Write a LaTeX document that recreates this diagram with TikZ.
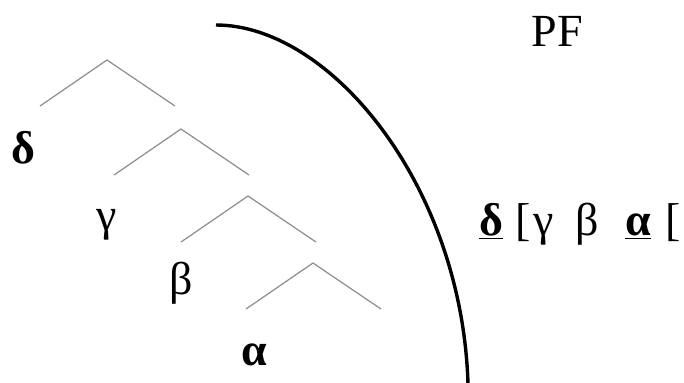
\documentclass[tikz,border=0pt]{standalone}
\usepackage{fontspec}
\setmainfont{Liberation Serif}
\usepackage{tikz}
\usetikzlibrary{positioning}
\tikzset{
  % tree branches
  branch/.style={gray!90,line width=0.6pt},
  % greek labels
  lbl/.style={anchor=base,inner sep=0pt,font=\fontsize{23}{27}\selectfont},
  blbl/.style={lbl,font=\fontsize{23}{27}\selectfont\bfseries},
  % PF boundary
  boundary/.style={black,line width=1.7pt},
}
\begin{document}
\begin{tikzpicture}[x=0.5pt,y=-0.5pt]
\useasboundingbox (0,0) rectangle (684,382);

% tree: apex, left and right ends
\foreach \n/\x/\y in {1/107/60, 2/181/129, 3/248/196, 4/313/263}{
  \coordinate (top\n) at (\x,\y);
  \coordinate (lft\n) at ({\x-67},{\y+46});
  \coordinate (rgt\n) at ({\x+68},{\y+46});
  \draw[branch] (lft\n) -- (top\n) -- (rgt\n);
}

% specifiers
\node[blbl] (delta) at (23,163) {δ};
\node[lbl] (gamma) at (107,230) {γ};
\node[lbl] (beta) at (181,294) {β};
\node[blbl] (alpha) at (254,365) {α};

% PF boundary
\coordinate (bstart) at (216,25);
\coordinate (bend) at (468,384);
\draw[boundary] (bstart) .. controls (330,25) and (462,185) .. (bend);

\node[lbl] (pf) at (557,46) {PF};

% linearised string
\node[blbl] (sdelta) at (491,235) {\underline{δ}};
\node[lbl] (sbrA) at (523,235) {[};
\node[lbl] (sgamma) at (544,235) {γ};
\node[lbl] (sbeta) at (587,235) {β};
\node[blbl] (salpha) at (638,235) {\underline{α}};
\node[lbl] (sbrB) at (673,235) {[};
\end{tikzpicture}
\end{document}
